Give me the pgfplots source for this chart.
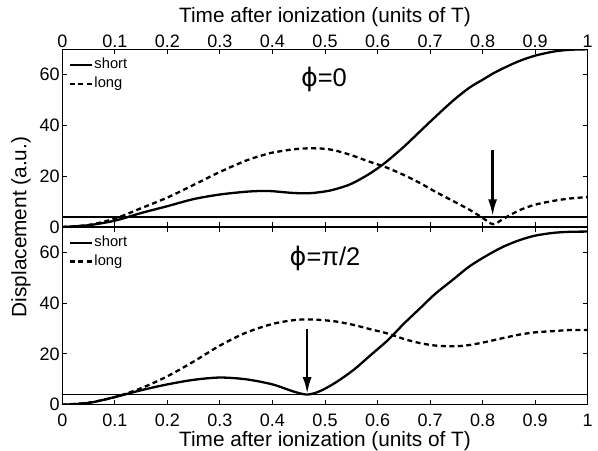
\documentclass[border=0pt]{standalone}
\usepackage{pgfplots}
\pgfplotsset{compat=1.18}
\usepackage{pgfplotstable}
\usepackage{fontspec}
\setmainfont{Liberation Sans}
\newfontfamily\dejavu{DejaVu Sans}
\usetikzlibrary{arrows.meta}

% phi = 0
\pgfplotstableread{
t      short  long
0      0      0
0.05   0.7    0.8
0.1    2.5    3.3
0.15   5.5    7.4
0.2    8.2    11.6
0.25   11.0   16.6
0.3    12.8   21.7
0.35   13.9   26.2
0.38   14.2   28.2
0.4    14.1   29.3
0.44   13.4   30.6
0.47   13.3   31.0
0.5    14.0   30.8
0.52   14.9   30.1
0.55   17.0   28.3
0.585  21.0   25.7
0.615  25.4   23.6
0.65   31.6   20.5
0.68   37.5   17.4
0.71   43.4   13.9
0.745  50.0   10.1
0.775  54.9   6.8
0.8    58.0   3.6
0.82   60.5   1.1
0.84   62.6   3.3
0.87   65.4   6.6
0.9    67.5   8.8
0.935  69.1   10.3
0.965  69.8   11.2
1.0    70.0   11.8
}\phizero

% phi = pi/2
\pgfplotstableread{
t      short  long
0      0      0
0.05   0.7    0.8
0.1    3.0    3.0
0.15   5.7    6.5
0.2    8.0    11.2
0.25   9.8    17.0
0.3    10.7   23.3
0.35   10.0   28.4
0.4    8.0    31.8
0.44   5.2    33.3
0.466  4.0    33.6
0.49   5.3    33.4
0.52   8.7    32.8
0.555  13.8   31.4
0.585  19.2   29.8
0.62   25.5   28.0
0.65   31.9   25.9
0.68   37.8   24.3
0.71   43.7   23.3
0.745  49.5   23.0
0.775  54.5   23.5
0.81   59.0   24.9
0.84   62.3   26.3
0.87   64.8   27.6
0.9    66.6   28.5
0.935  67.7   29.0
0.965  68.1   29.4
1.0    68.2   29.4
}\phihalf

\tikzset{arrowline/.style={line width=2.5bp, -{Latex[length=17bp,width=9bp]}}}

\pgfplotsset{
  panel/.style={
    scale only axis, width=525.4bp, height=177.7bp,
    xmin=0, xmax=1, ymin=0, ymax=70,
    xtick={0,0.1,0.2,0.3,0.4,0.5,0.6,0.7,0.8,0.9,1},
    ytick={0,20,40,60},
    tick align=inside, major tick length=5bp,
    axis line style={line width=1.2bp},
    every tick/.style={black, line width=0.9bp},
    tick label style={font=\fontsize{18bp}{18bp}\selectfont},
    /pgf/number format/assume math mode=true,
    yticklabel style={inner sep=2.5bp},
    legend style={draw=none, fill=none, at={(0,1)}, anchor=north west,
      xshift=6bp, yshift=-8bp, inner sep=0pt,
      font=\fontsize{14.7bp}{15bp}\selectfont, row sep=3bp,
      nodes={inner sep=1bp, text height=10.5bp, text depth=3bp}},
    legend cell align=left,
    legend image code/.code={\draw[##1] (0bp,0bp) -- (22.7bp,0bp);},
    shortline/.style={black, line width=2.3bp, smooth},
    longline/.style={black, line width=2.3bp, smooth, dash pattern=on 5bp off 3.5bp},
    refline/.style={black, line width=1.6bp, forget plot},
  }
}

\begin{document}
\begin{tikzpicture}
\useasboundingbox (-62.3bp,49.3bp) rectangle (535.7bp,-401.7bp);

\begin{axis}[panel, name=top, at={(0,0)}, anchor=north west,
  xticklabel pos=upper,
  xticklabel style={inner sep=0pt, yshift=1.5bp},
  xlabel={Time after ionization (units of T)},
  every axis x label/.style={at={(axis description cs:0.5,1)}, anchor=base, yshift=26.6bp,
    font=\fontsize{20.8bp}{21bp}\selectfont},
]
  \addplot[shortline] table[x=t, y=short] {\phizero};
  \addplot[longline] table[x=t, y=long] {\phizero};
  \legend{short, long}
  \addplot[refline] coordinates {(0,4) (1,4)};
  \draw[arrowline] (axis cs:0.819,30.4) -- (axis cs:0.819,4.2);
  \node[font=\fontsize{25.5bp}{26bp}\selectfont] at (axis cs:0.498,58) {{\dejavu ϕ}=0};
\end{axis}

\begin{axis}[panel, name=bottom, at={(0,-177.7bp)}, anchor=north west,
  xticklabel style={inner sep=0pt, yshift=-9bp},
  xlabel={Time after ionization (units of T)},
  every axis x label/.style={at={(axis description cs:0.5,0)}, anchor=base, yshift=-42.2bp,
    font=\fontsize{20.8bp}{21bp}\selectfont},
]
  \addplot[shortline] table[x=t, y=short] {\phihalf};
  \addplot[longline] table[x=t, y=long] {\phihalf};
  \legend{short, long}
  \addplot[refline] coordinates {(0,4) (1,4)};
  \draw[arrowline] (axis cs:0.466,29.8) -- (axis cs:0.466,4.2);
  \node[font=\fontsize{25.5bp}{26bp}\selectfont] at (axis cs:0.5,57.8) {{\dejavu ϕ}=π/2};
\end{axis}

\node[rotate=90, font=\fontsize{20.8bp}{21bp}\selectfont] at (-41.3bp,-177.7bp) {Displacement (a.u.)};
\end{tikzpicture}
\end{document}
